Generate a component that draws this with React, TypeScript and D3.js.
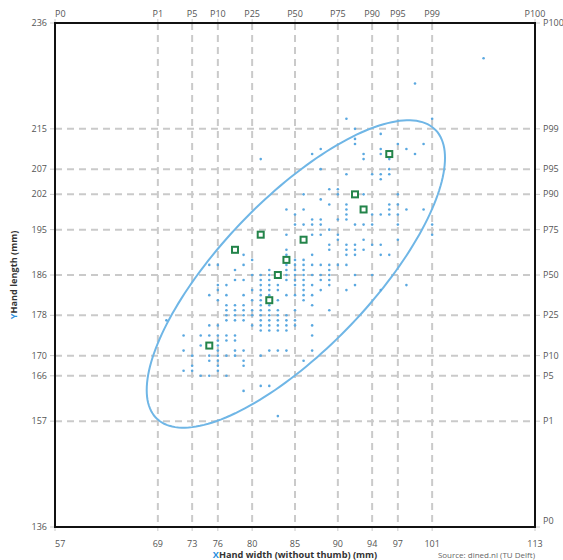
import React, { useRef, useEffect } from "react";
import * as d3 from "d3";

// percentile ticks for both axes
const xTickValues = [57, 69, 73, 76, 80, 85, 90, 94, 97, 101, 113];
const yTickValues = [136, 157, 166, 170, 178, 186, 195, 202, 207, 215, 236];
const percentileLabels = ["P0", "P1", "P5", "P10", "P25", "P50", "P75", "P90", "P95", "P99", "P100"];

// sample: hand length (rows) and the hand widths found on each row
const lengthRows = [
  229, 224, 217, 215, 214, 213, 212, 211, 210, 209, 207, 206, 205, 203, 202, 201, 200, 199, 198, 197,
  196, 195, 194, 193, 192, 191, 190, 189, 188, 187, 186, 185, 184, 183, 182, 181, 180, 179, 178, 177,
  176, 175, 174, 173, 172, 171, 170, 169, 168, 167, 166, 164, 163, 158,
];
const widthsPerRow = [
  [107], [99], [91, 101], [92], [95], [92], [92, 97, 100], [88, 95, 98], [87, 93, 95, 99], [81, 93, 96],
  [88, 96], [91, 94, 95, 96], [95], [89, 90], [86, 90, 93, 97], [88], [89, 91, 96, 97],
  [84, 86, 91, 96, 98, 100], [85, 91, 94, 95, 96, 97], [87, 88, 90, 91],
  [85, 86, 87, 88, 92, 93, 94, 97, 101], [89], [84, 87, 88, 90, 101], [90, 93, 97], [89, 91, 92, 94, 95],
  [84, 89, 91, 92, 93], [79, 84, 87, 91, 92, 95, 96], [80, 85, 86],
  [75, 76, 79, 84, 85, 86, 87, 88, 89, 90, 91], [78, 82, 84, 85, 86, 89],
  [80, 81, 82, 84, 85, 86, 87, 88, 89, 92, 94], [78, 79, 81, 82, 84, 85, 86, 88, 89],
  [76, 77, 81, 82, 83, 85, 86, 87, 89, 92, 98], [76, 80, 81, 82, 83, 86, 88, 91, 95],
  [75, 77, 79, 81, 82, 84, 85, 86, 87], [76, 80, 81, 83, 86], [77, 78, 79, 81, 82, 87],
  [77, 78, 79, 80, 81, 82, 83, 85, 89], [77, 78, 79, 80, 81, 82, 83, 84],
  [70, 77, 78, 79, 81, 82, 83, 84, 85], [75, 76, 80, 81, 82, 83, 84, 85, 87], [81, 82, 83, 84],
  [72, 74, 75, 76, 77, 78, 87], [76, 77, 78], [74, 76], [72, 76, 78, 79, 82, 83, 84, 87],
  [73, 75, 76, 77, 78, 81], [75, 76, 79, 86], [73, 76, 79], [72, 73, 76], [74, 75, 77], [81, 82], [79], [83],
];

// highlighted persons (green squares)
const markedWidth = [75, 78, 81, 82, 83, 84, 86, 92, 93, 96];
const markedLength = [172, 191, 194, 181, 186, 189, 193, 202, 199, 210];

// ellipse: center, half extents, correlation
const ellipseCenter = [85.1, 186.2];
const ellipseHalf = [17.4, 30.5];
const ellipseCorr = 0.755;

export default function App() {
  const ref = useRef<SVGSVGElement>(null);
  useEffect(() => {
    const width = 563;
    const height = 560;
    const svg = d3.select(ref.current);
    svg.selectAll("*").remove();
    svg.attr("width", width).attr("height", height);

    const left = 55, right = 535, top = 23, bottom = 527;
    const x = d3.scaleLinear().domain([57, 113]).range([left, right]);
    const y = d3.scaleLinear().domain([136, 236]).range([bottom, top]);
    const font = "'Open Sans', sans-serif";
    const grey = "#cacaca";

    // grid
    const grid = svg.append("g").attr("stroke", grey).attr("stroke-width", 2);
    grid.selectAll("line.v")
      .data(xTickValues.slice(1, -1))
      .join("line")
      .attr("x1", (d) => x(d)).attr("x2", (d) => x(d))
      .attr("y1", top).attr("y2", bottom)
      .attr("stroke-dasharray", "7,5");
    grid.selectAll("line.h")
      .data(yTickValues.slice(1, -1))
      .join("line")
      .attr("class", "h")
      .attr("y1", (d) => y(d)).attr("y2", (d) => y(d))
      .attr("x1", left).attr("x2", right)
      .attr("stroke-dasharray", "7,5");

    // small ticks outside the frame
    const ticks = svg.append("g").attr("stroke", grey).attr("stroke-width", 1);
    xTickValues.forEach((v) => {
      ticks.append("line").attr("x1", x(v)).attr("x2", x(v)).attr("y1", top - 4).attr("y2", top);
      ticks.append("line").attr("x1", x(v)).attr("x2", x(v)).attr("y1", bottom).attr("y2", bottom + 4);
    });
    yTickValues.forEach((v) => {
      ticks.append("line").attr("x1", left - 5).attr("x2", left).attr("y1", y(v)).attr("y2", y(v));
      ticks.append("line").attr("x1", right).attr("x2", right + 5).attr("y1", y(v)).attr("y2", y(v));
    });

    // ellipse
    const rr = Math.sqrt(1 - ellipseCorr * ellipseCorr);
    const ellPts = d3.range(0, 2 * Math.PI + 0.01, Math.PI / 90).map((t) => [
      ellipseCenter[0] + ellipseHalf[0] * Math.cos(t),
      ellipseCenter[1] + ellipseHalf[1] * (ellipseCorr * Math.cos(t) + rr * Math.sin(t)),
    ]);
    svg.append("path")
      .attr("d", d3.line<number[]>().x((d) => x(d[0])).y((d) => y(d[1])).curve(d3.curveLinearClosed)(ellPts))
      .attr("fill", "none")
      .attr("stroke", "#6fb6e6")
      .attr("stroke-width", 2);

    // sample dots
    const samples = lengthRows.flatMap((l, i) => widthsPerRow[i].map((w) => [w, l]));
    svg.append("g")
      .selectAll("circle")
      .data(samples)
      .join("circle")
      .attr("cx", (d) => x(d[0]))
      .attr("cy", (d) => y(d[1]))
      .attr("r", 1.3)
      .attr("fill", "#5aa8e0");

    // marked persons
    svg.append("g")
      .selectAll("rect")
      .data(markedWidth.map((w, i) => [w, markedLength[i]]))
      .join("rect")
      .attr("x", (d) => x(d[0]) - 3)
      .attr("y", (d) => y(d[1]) - 3)
      .attr("width", 6)
      .attr("height", 6)
      .attr("fill", "#fff")
      .attr("stroke", "#23844a")
      .attr("stroke-width", 2);

    // frame
    svg.append("rect")
      .attr("x", left).attr("y", top)
      .attr("width", right - left).attr("height", bottom - top)
      .attr("fill", "none").attr("stroke", "#111").attr("stroke-width", 2);

    // labels
    const lab = svg.append("g").attr("font-family", font).attr("font-size", 9).attr("fill", "#555");
    xTickValues.forEach((v, i) => {
      const anchor = i === 0 ? "start" : "middle";
      lab.append("text").attr("x", x(v)).attr("y", 16.5).attr("text-anchor", anchor).text(percentileLabels[i]);
      lab.append("text").attr("x", x(v)).attr("y", 546.5).attr("text-anchor", anchor).text(v);
    });
    yTickValues.forEach((v, i) => {
      lab.append("text").attr("x", left - 8).attr("y", y(v) + 3).attr("text-anchor", "end").text(v);
      lab.append("text").attr("x", right + 8).attr("y", i === 0 ? y(v) - 3 : y(v) + 3).text(percentileLabels[i]);
    });

    const xt = svg.append("text")
      .attr("x", (left + right) / 2).attr("y", 557.5)
      .attr("text-anchor", "middle")
      .attr("font-family", font).attr("font-size", 9.2).attr("font-weight", "bold").attr("fill", "#333");
    xt.append("tspan").attr("fill", "#2b8fde").text("X");
    xt.append("tspan").text("Hand width (without thumb) (mm)");

    const yt = svg.append("text")
      .attr("transform", `translate(17,${(top + bottom) / 2}) rotate(-90)`)
      .attr("text-anchor", "middle")
      .attr("font-family", font).attr("font-size", 9.2).attr("font-weight", "bold").attr("fill", "#333");
    yt.append("tspan").attr("fill", "#2b8fde").text("Y");
    yt.append("tspan").text("Hand length (mm)");

    svg.append("text")
      .attr("x", right).attr("y", 557.5)
      .attr("text-anchor", "end")
      .attr("font-family", font).attr("font-size", 8).attr("fill", "#666")
      .text("Source: dined.nl (TU Delft)");
  }, []);

  return (
    <div style={{ position: "absolute", left: 0, top: 0 }}>
      <svg ref={ref} />
    </div>
  );
}
